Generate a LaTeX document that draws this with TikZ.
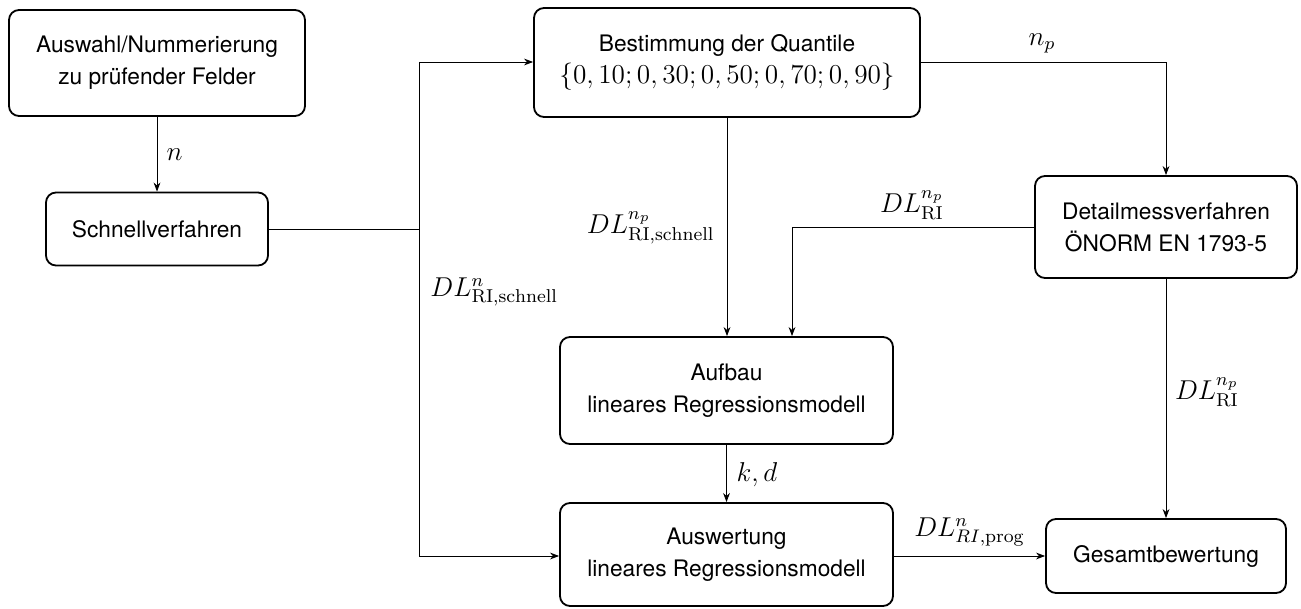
\documentclass[tikz,border=0pt]{standalone}
\usepackage{fontspec}
\newfontfamily\heros{TeX Gyre Heros}
\usetikzlibrary{arrows.meta}
\newcommand\mathsz{\fontsize{11.7}{14}\selectfont}
\begin{document}
\begin{tikzpicture}[x=0.44pt,y=-0.44pt,
  >={Stealth[length=4pt,width=3pt]},
  box/.style 2 args={draw, line width=0.8pt, rounded corners=4.4pt, align=center,
    inner sep=0pt, minimum width=#1*0.44pt, minimum height=#2*0.44pt,
    font=\heros\fontsize{10}{14}\selectfont},
  conn/.style={line width=0.4pt},
  lbl/.style={inner sep=0pt, font=\mathsz}]
\useasboundingbox (0,0) rectangle (1301,608);
% boxes
\node[box={296}{106}] (aus) at (157,63) {Auswahl/Nummerierung\\zu prüfender Felder};
\node[box={222}{73}] (sch) at (157,229) {Schnellverfahren};
\node[box={386}{109}] (best) at (727,62.5) {Bestimmung der Quantile\\{\mathsz$\{0,10;0,30;0,50;0,70;0,90\}$}};
\node[box={262}{102}] (det) at (1166,227) {Detailmessverfahren\\ÖNORM EN 1793-5};
\node[box={333}{107}] (auf) at (726.5,390.5) {Aufbau\\lineares Regressionsmodell};
\node[box={333}{103}] (ausw) at (726.5,554.5) {Auswertung\\lineares Regressionsmodell};
\node[box={240}{74}] (ges) at (1166,556) {Gesamtbewertung};
% junction coordinates
\coordinate (jt) at (419,62);
\coordinate (jb) at (419,556);
\coordinate (c1) at (792,228);
% connectors
\draw[conn,->] (aus) -- (sch);
\draw[conn] (sch.east) -- (sch.east -| jt);
\draw[conn] (jt) -- (jb);
\draw[conn,->] (jt) -- (best.west |- jt);
\draw[conn,->] (jb) -- (ausw.west |- jb);
\draw[conn,->] (best.south) -- (best.south |- auf.north);
\draw[conn,->] (det.west) -| (auf.north -| c1);
\draw[conn,->] (best.east) -| (det.north);
\draw[conn,->] (det.south) -- (ges.north);
\draw[conn,->] (auf.south) -- (ausw.north);
\draw[conn,->] (ausw.east |- ges.west) -- (ges.west);
% labels
\node[lbl] (ln) at (174.5,155) {$n$};
\node[lbl] (lnp) at (1042,43) {$n_p$};
\node[lbl, anchor=east] (ldls) at (715,228) {$DL^{n_p}_{\mathrm{RI,schnell}}$};
\node[lbl, anchor=west] (ldln) at (430,292) {$DL^{n}_{\mathrm{RI,schnell}}$};
\node[lbl] (ldlri) at (912,205) {$DL^{n_p}_{\mathrm{RI}}$};
\node[lbl] (ldlri2) at (1207,392) {$DL^{n_p}_{\mathrm{RI}}$};
\node[lbl] (lkd) at (757,475) {$k,d$};
\node[lbl] (lprog) at (969.5,532) {$DL^{n}_{RI,\mathrm{prog}}$};
\end{tikzpicture}
\end{document}
